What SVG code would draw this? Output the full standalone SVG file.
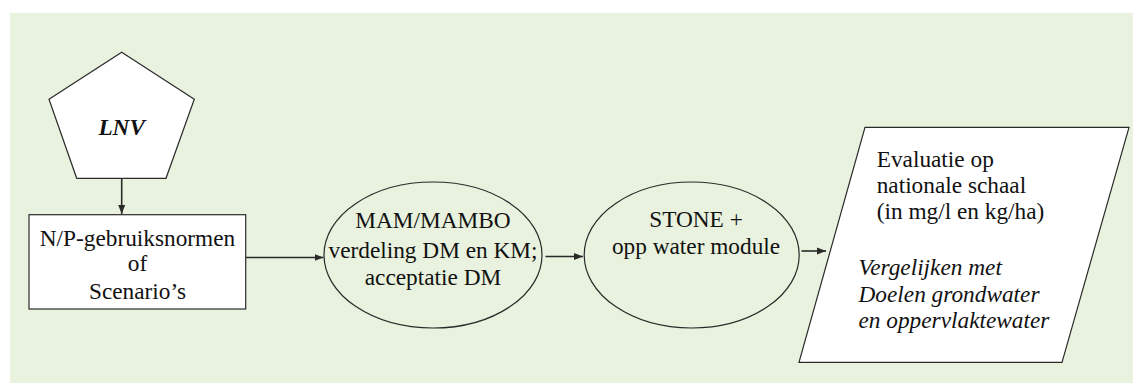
<svg xmlns="http://www.w3.org/2000/svg" width="1133" height="383" viewBox="0 0 1133 383">
<style>
.shape{fill:#ffffff;stroke:#2a2a2a;stroke-width:1.2}
.oval{fill:#e8f2de;stroke:#2a2a2a;stroke-width:1.2}
.t{font-family:"Liberation Serif","Times New Roman",serif;font-size:23.3px;fill:#111111}
.c{text-anchor:middle}
.i{font-style:italic}
.conn{stroke:#2a2a2a;stroke-width:1.6;fill:none}
</style>
<defs>
<marker id="ah" markerUnits="userSpaceOnUse" markerWidth="10" markerHeight="8" refX="9" refY="4" orient="auto">
<path d="M0,0.5 L9,4 L0,7.5 z" fill="#2a2a2a"/>
</marker>
</defs>
<rect x="10" y="13" width="1123" height="370" fill="#e8f2de"/>
<g id="connectors">
<line class="conn" x1="121.7" y1="178.5" x2="121.7" y2="214" marker-end="url(#ah)"/>
<line class="conn" x1="246" y1="257.5" x2="323.5" y2="257.5" stroke-width="2.2" marker-end="url(#ah)"/>
<line class="conn" x1="545.5" y1="256.5" x2="583" y2="256.5" marker-end="url(#ah)"/>
<line class="conn" x1="801.5" y1="251" x2="826" y2="251" marker-end="url(#ah)"/>
</g>
<g id="lnv">
<polygon class="shape" points="121.7,52.3 194.3,99.3 166,178.3 76.7,178.3 49,99.3"/>
<text class="t c" x="121.7" y="135" font-weight="bold" font-style="italic" font-size="22">LNV</text>
</g>
<g id="normen">
<rect class="shape" x="29" y="214.7" width="216.7" height="94.3"/>
<text class="t c" x="137.5" y="245.7">N/P-gebruiksnormen</text>
<text class="t c" x="137.5" y="271.3">of</text>
<text class="t c" x="137.5" y="299">Scenario’s</text>
</g>
<g id="mambo">
<ellipse class="oval" cx="433" cy="255" rx="109" ry="73"/>
<text class="t c" x="433" y="228.3">MAM/MAMBO</text>
<text class="t c" x="433" y="257.5">verdeling DM en KM;</text>
<text class="t c" x="433" y="285">acceptatie DM</text>
</g>
<g id="stone">
<ellipse class="oval" cx="691.7" cy="255" rx="107.5" ry="73"/>
<text class="t c" x="696" y="226.7">STONE +</text>
<text class="t c" x="696" y="254">opp water module</text>
</g>
<g id="evaluatie">
<polygon class="shape" points="865,127.3 1129,127.3 1062,362.3 799,362.3"/>
<text class="t" x="876.7" y="166.7">Evaluatie op</text>
<text class="t" x="876.7" y="192.7">nationale schaal</text>
<text class="t" x="876.7" y="218.5">(in mg/l en kg/ha)</text>
<text class="t i" x="858.5" y="275">Vergelijken met</text>
<text class="t i" x="858.5" y="301.7">Doelen grondwater</text>
<text class="t i" x="858.5" y="328.3">en oppervlaktewater</text>
</g>
</svg>
